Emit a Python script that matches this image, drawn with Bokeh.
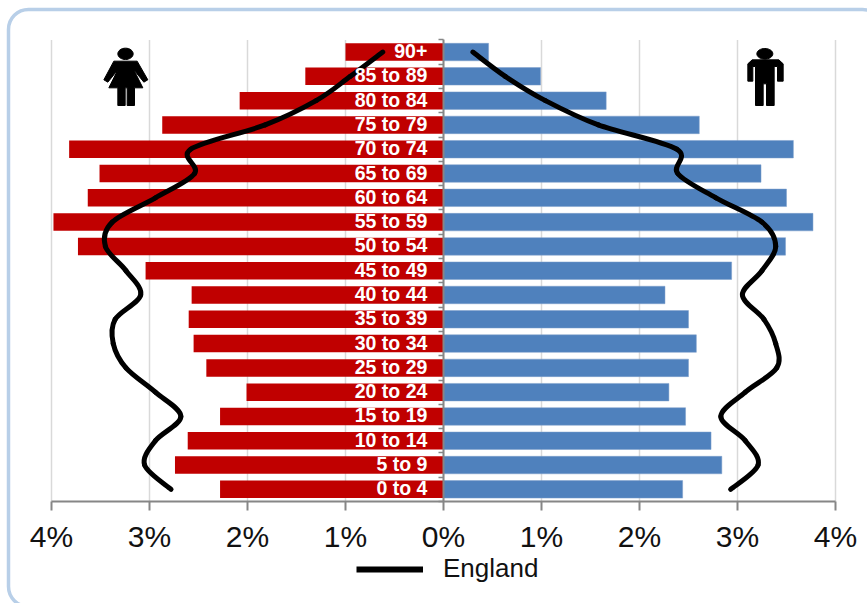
import math
from bokeh.plotting import figure
from bokeh.models import (ColumnDataSource, FixedTicker, LinearAxis, Legend, LegendItem,
                          PolyAnnotation, BoxAnnotation, Range1d)
from bokeh.core.properties import value
from bokeh.embed import file_html
from bokeh.resources import INLINE

# ---- data (youngest first) ----
ages = ["0 to 4", "5 to 9", "10 to 14", "15 to 19", "20 to 24", "25 to 29", "30 to 34",
        "35 to 39", "40 to 44", "45 to 49", "50 to 54", "55 to 59", "60 to 64", "65 to 69",
        "70 to 74", "75 to 79", "80 to 84", "85 to 89", "90+"]
female = [2.28, 2.74, 2.61, 2.28, 2.01, 2.42, 2.55, 2.60, 2.57, 3.04, 3.73, 3.98, 3.63, 3.51,
          3.82, 2.87, 2.08, 1.41, 1.00]
male = [2.44, 2.84, 2.73, 2.47, 2.30, 2.50, 2.58, 2.50, 2.26, 2.94, 3.49, 3.77, 3.50, 3.24,
        3.57, 2.61, 1.66, 0.99, 0.46]
england_female = [2.78, 3.05, 2.94, 2.68, 2.94, 3.24, 3.37, 3.35, 3.09, 3.24, 3.45, 3.38, 2.94,
                  2.54, 2.58, 1.82, 1.30, 0.95, 0.62]
england_male = [2.93, 3.21, 3.08, 2.83, 3.08, 3.40, 3.39, 3.27, 3.05, 3.25, 3.39, 3.25, 2.78,
                2.39, 2.38, 1.58, 1.04, 0.63, 0.30]
x_ticks = [-4, -3, -2, -1, 0, 1, 2, 3, 4]
x_tick_labels = ["4%", "3%", "2%", "1%", "0%", "1%", "2%", "3%", "4%"]
legend_label = "England"

RED = "#C00000"
BLUE = "#4F81BD"
FONT = "Liberation Sans"
W, H = 867, 603
# plot box in canvas pixels; the frame fills the canvas so that legend, pictograms and panel can be drawn anywhere
PL, PR, PT, PB = 51, 835, 39.4, 501
n = len(ages)
sx = (PR - PL) / 8
sy = (PB - PT) / n
y_lo, y_hi = -0.5, n - 0.5

p = figure(width=W, height=H, output_backend="svg", toolbar_location=None,
           x_range=Range1d(-4 - PL / sx, 4 + (W - PR) / sx),
           y_range=Range1d(y_lo - (H - PB) / sy, y_hi + PT / sy),
           min_border_left=0, min_border_right=0, min_border_top=0, min_border_bottom=0,
           outline_line_color=None, background_fill_color="white", border_fill_color="white")

ypos = list(range(n))
src = ColumnDataSource(dict(y=ypos, age=ages, f=[-v for v in female], m=male,
                            lx=[-0.165] * n))
# gridlines stop at the axis, so they are drawn from the tick list
p.segment(x0=x_ticks, x1=x_ticks, y0=[y_lo] * len(x_ticks), y1=[y_hi] * len(x_ticks),
          line_color="#D9D9D9", line_width=1.5, level="underlay")
p.hbar(y="y", left="f", right=0, height=0.72, source=src, fill_color=RED, line_color=None)
p.hbar(y="y", left=0, right="m", height=0.72, source=src, fill_color=BLUE, line_color="#7C9FCB", line_width=0.5)


def smooth(xs, ys):
    """Draw a series through its points with Excel-like smoothed segments."""
    m = len(xs)
    d = dict(x0=[], y0=[], x1=[], y1=[], cx0=[], cy0=[], cx1=[], cy1=[])
    for i in range(m - 1):
        a, b = max(i - 1, 0), min(i + 2, m - 1)
        d["x0"].append(xs[i]); d["y0"].append(ys[i])
        d["x1"].append(xs[i + 1]); d["y1"].append(ys[i + 1])
        d["cx0"].append(xs[i] + (xs[i + 1] - xs[a]) / 6); d["cy0"].append(ys[i] + (ys[i + 1] - ys[a]) / 6)
        d["cx1"].append(xs[i + 1] - (xs[b] - xs[i]) / 6); d["cy1"].append(ys[i + 1] - (ys[b] - ys[i]) / 6)
    p.bezier(x0="x0", y0="y0", x1="x1", y1="y1", cx0="cx0", cy0="cy0", cx1="cx1", cy1="cy1",
             source=ColumnDataSource(d), line_color="black", line_width=5, line_cap="round")


smooth([-v for v in england_female], ypos)
smooth(england_male, ypos)

p.text(x="lx", y="y", text="age", source=src, text_color="white", text_font=value(FONT),
       text_font_style="bold", text_font_size="19.5px", text_align="right", text_baseline="middle",
       y_offset=-1)

# axes
ax = p.xaxis[0]
ax.fixed_location = y_lo
ax.bounds = (-4, 4)
ax.ticker = FixedTicker(ticks=x_ticks)
ax.major_label_overrides = {t: l for t, l in zip(x_ticks, x_tick_labels)}
ax.major_label_text_font = FONT
ax.major_label_text_font_size = "30px"
ax.major_label_text_color = "#111111"
ax.major_label_standoff = 9
ax.axis_line_color = "#868686"
ax.axis_line_width = 2
ax.major_tick_line_color = "#868686"
ax.major_tick_line_width = 2
ax.major_tick_in = 0
ax.major_tick_out = 9
ax.minor_tick_line_color = None

p.yaxis[0].visible = False
boundaries = [i - 0.5 for i in range(n + 1)]
centre_axis = LinearAxis(fixed_location=0, bounds=(y_lo, y_hi), ticker=FixedTicker(ticks=boundaries),
                         major_label_overrides={b: "" for b in boundaries},
                         axis_line_color="#868686", axis_line_width=2,
                         major_tick_line_color="#868686", major_tick_line_width=1.5,
                         major_tick_in=0, major_tick_out=5, minor_tick_line_color=None)
p.add_layout(centre_axis, "left")

p.xgrid.visible = False
p.ygrid.visible = False

# legend: its key renderer lies outside the visible range, only the legend swatch shows
key = p.line(x=[-1, 1], y=[y_lo - 100, y_lo - 100], line_color="black", line_width=6)
legend = Legend(items=[LegendItem(label=legend_label, renderers=[key])], location=(356, 19),
                background_fill_alpha=0, border_line_color=None, glyph_width=67, glyph_height=24,
                label_standoff=20, label_text_font=FONT, label_text_font_size="26px",
                label_text_color="#111111", margin=0, padding=0)
p.add_layout(legend, "center")

# rounded panel outline (screen units count from the frame's bottom left)
p.add_layout(BoxAnnotation(left=8, right=882, top=H - 9, bottom=-3,
                           left_units="screen", right_units="screen", top_units="screen", bottom_units="screen",
                           fill_alpha=0, line_color="#B8CFE8", line_width=3.5, line_alpha=1, border_radius=20,
                           level="underlay"))


# pictograms: outlines in reference-crop pixels, placed in canvas pixels
def icon(poly, head, ox, oy):
    hx, hy, rx, ry = head
    for pts in (poly, [(hx + rx * math.cos(t / 16 * math.pi), hy + ry * math.sin(t / 16 * math.pi)) for t in range(32)]):
        p.add_layout(PolyAnnotation(xs=[ox + a / 3 for a, _ in pts],
                                    ys=[H - (oy + b / 3) for _, b in pts],
                                    xs_units="screen", ys_units="screen", fill_color="black",
                                    fill_alpha=1, line_color="black", line_width=1, line_alpha=1))


woman = [(100, 92), (170, 92), (202, 148), (190, 155), (160, 118), (187, 172), (162, 172), (162, 225),
         (140, 225), (140, 172), (134, 172), (134, 225), (112, 225), (112, 172), (85, 172), (112, 118),
         (82, 155), (70, 148)]
man = [(95, 88), (175, 88), (188, 100), (188, 152), (171, 152), (171, 108), (161, 108), (161, 225),
       (138, 225), (138, 160), (128, 160), (128, 225), (105, 225), (105, 108), (97, 108), (97, 152),
       (82, 152), (82, 100)]
icon(woman, (135, 70, 23, 17), 80, 30)
icon(man, (133, 70, 24, 16), 720, 30)

open("out.html", "w").write(file_html(p, INLINE))
